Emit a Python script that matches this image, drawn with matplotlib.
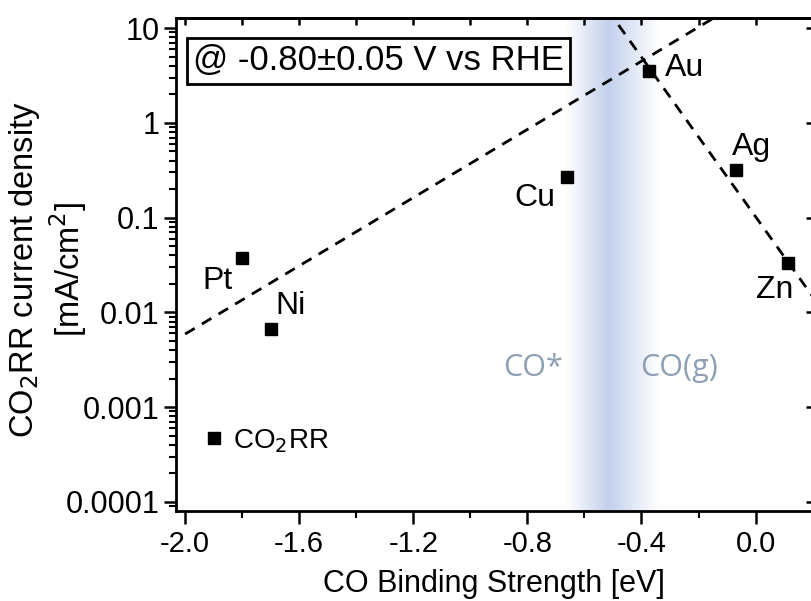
import numpy as np
import matplotlib.pyplot as plt
from matplotlib.ticker import FixedLocator, LogLocator, NullFormatter

plt.rcParams['font.family'] = ['Liberation Sans', 'DejaVu Sans']

# data
metals = ['Pt', 'Ni', 'Cu', 'Au', 'Ag', 'Zn']
binding = [-1.80, -1.70, -0.66, -0.375, -0.07, 0.115]
current = [0.037, 0.0066, 0.27, 3.5, 0.32, 0.033]
label_offsets = [(-25, -23), (20, 23), (-32, -21), (36, 3), (16, 23), (-14, -27)]

# trend lines (log10 of current vs binding energy)
left_x = [-2.0, -0.1]
left_y = [0.0059, 15.5]
right_x = [-0.52, 0.2]
right_y = [15.8, 0.0147]

# CO*/CO(g) boundary band
band_lo, band_mid, band_hi = -0.665, -0.515, -0.34

fig = plt.figure(figsize=(8.11, 6.01), dpi=100)
ax = fig.add_axes([0.217, 0.150, 0.785, 0.820])

# shaded band built from thin strips
edges = np.linspace(band_lo, band_hi, 120)
for a, b in zip(edges[:-1], edges[1:]):
    c = 0.5 * (a + b)
    if c < band_mid:
        t = (c - band_lo) / (band_mid - band_lo)
    else:
        t = (band_hi - c) / (band_hi - band_mid)
    ax.axvspan(a, b, color='#bccbea', alpha=0.9 * t ** 1.0, lw=0, zorder=0)

ax.plot(left_x, left_y, ls=(0, (4, 3)), color='black', lw=2, zorder=2)
ax.plot(right_x, right_y, ls=(0, (4, 3)), color='black', lw=2, zorder=2)

ax.plot(binding, current, 's', color='black', ms=9, ls='none', zorder=3, label='CO$_2$RR')

for name, x, y, off in zip(metals, binding, current, label_offsets):
    ax.annotate(name, (x, y), xytext=off, textcoords='offset pixels',
                ha='center', va='center', fontsize=23)

ax.text(-0.78, 0.0026, 'CO*', color='#8fa0b4', fontsize=22, ha='center', va='center',
        family='Open Sans')
ax.text(-0.27, 0.0026, 'CO(g)', color='#8fa0b4', fontsize=22, ha='center', va='center',
        family='Open Sans')

ax.text(0.027, 0.913, '@ -0.80±0.05 V vs RHE', transform=ax.transAxes, fontsize=25,
        ha='left', va='center',
        bbox=dict(boxstyle='square,pad=0.18', fc='white', ec='black', lw=2))

ax.legend(loc='center left', bbox_to_anchor=(0.02, 0.142), frameon=False,
          handlelength=0.8, handletextpad=0.3, borderpad=0, fontsize=20, numpoints=1)

ax.set_yscale('log')
ax.set_xlim(-2.032, 0.2)
ax.set_ylim(10 ** -4.095, 10 ** 1.106)

ax.set_xticks([-2.0, -1.6, -1.2, -0.8, -0.4, 0.0])
ax.set_xticklabels(['-2.0', '-1.6', '-1.2', '-0.8', '-0.4', '0.0'])
ax.xaxis.set_minor_locator(FixedLocator([-1.8, -1.4, -1.0, -0.6, -0.2, 0.2]))
ax.set_yticks([1e-4, 1e-3, 1e-2, 1e-1, 1, 10])
ax.set_yticklabels(['0.0001', '0.001', '0.01', '0.1', '1', '10'])
ax.yaxis.set_minor_locator(LogLocator(base=10, subs=np.arange(2, 10)))
ax.yaxis.set_minor_formatter(NullFormatter())

ax.tick_params(which='major', direction='out', length=9, width=1.8)
ax.tick_params(which='minor', direction='out', length=5, width=1.5)
ax.tick_params(axis='x', labelsize=21, pad=5)
ax.tick_params(axis='y', labelsize=22, pad=3)

top = ax.secondary_xaxis('top')
top.set_xticks([-2.0, -1.8, -1.6, -1.4, -1.2, -1.0, -0.8, -0.6, -0.4, -0.2, 0.0, 0.2])
top.tick_params(direction='in', length=5, width=1.8, labeltop=False)
right = ax.secondary_yaxis('right')
right.set_yticks([1e-4, 1e-3, 1e-2, 1e-1, 1, 10])
right.tick_params(direction='in', length=5, width=1.8, labelright=False)

for s in ax.spines.values():
    s.set_linewidth(2)
for s in list(top.spines.values()) + list(right.spines.values()):
    s.set_linewidth(2)

ax.set_xlabel('CO Binding Strength [eV]', fontsize=22, labelpad=8)
ax.set_ylabel('CO$_2$RR current density\n[mA/cm$^2$]', fontsize=23.5, linespacing=1.15)
ax.yaxis.set_label_coords(-0.137, 0.49)

fig.savefig('out.png', dpi=100)
